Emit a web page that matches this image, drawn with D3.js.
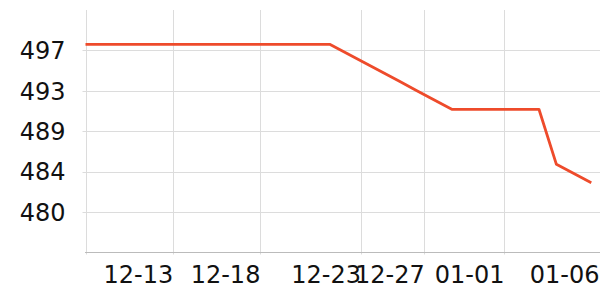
<!DOCTYPE html>
<html>
<head>
<meta charset="utf-8">
<script src="https://cdn.jsdelivr.net/npm/d3@7"></script>
<style>
  html, body { margin: 0; padding: 0; background: #fff; }
  svg { display: block; }
  text { font-family: "DejaVu Sans", sans-serif; }
</style>
</head>
<body>
<svg id="chart" width="600" height="300"></svg>
<script>
// Data (day index 0 = 12-08)
const dates = ["12-08","12-09","12-10","12-11","12-12","12-13","12-14","12-15","12-16","12-17",
               "12-18","12-19","12-20","12-21","12-22","12-23","12-24","12-25","12-26","12-27",
               "12-28","12-29","12-30","12-31","01-01","01-02","01-03","01-04","01-05","01-06"];
const values = [497.64,497.64,497.64,497.64,497.64,497.64,497.64,497.64,497.64,497.64,
                497.64,497.64,497.64,497.64,497.64,496.68,495.7,494.72,493.75,492.77,
                491.79,490.81,490.81,490.81,490.81,490.81,490.81,485.02,484.05,483.09];
const xTickPositions = [5, 10, 15.77, 19.42, 24, 29.45];
const xTickLabels = ["12-13","12-18","12-23","12-27","01-01","01-06"];
const yTicks = [480, 484.25, 488.5, 492.75, 497];
const yDomain = [475.75, 501.25];
const xDomain = [0, 29.5];

(function () {
const svg = d3.select("#chart");
const mLeft = 85.5, mRight = 600, mTop = 10, mBottom = 252.5;

const x = d3.scaleLinear().domain(xDomain).range([mLeft, mRight]);
const y = d3.scaleLinear().domain(yDomain).range([mBottom, mTop]);

// horizontal gridlines
svg.append("g").selectAll("line").data(yTicks).join("line")
  .attr("x1", mLeft - 3).attr("x2", mRight)
  .attr("y1", d => Math.round(y(d)) + 0.5).attr("y2", d => Math.round(y(d)) + 0.5)
  .attr("stroke", "#dcdcdc").attr("stroke-width", 1);

// vertical gridlines (left edge + ticks inside plot)
const vgrid = [0].concat(xTickPositions.filter(d => x(d) < mRight - 2));
svg.append("g").selectAll("line").data(vgrid).join("line")
  .attr("x1", d => Math.round(x(d)) + 0.5).attr("x2", d => Math.round(x(d)) + 0.5)
  .attr("y1", mTop).attr("y2", mBottom + 2)
  .attr("stroke", "#dcdcdc").attr("stroke-width", 1);

// bottom axis line
svg.append("line")
  .attr("x1", mLeft - 0.5).attr("x2", mRight)
  .attr("y1", mBottom).attr("y2", mBottom)
  .attr("stroke", "#bbbbbb").attr("stroke-width", 1.2);

// y labels
svg.append("g").selectAll("text").data(yTicks).join("text")
  .attr("x", 65.5).attr("y", d => y(d) + 8.7)
  .attr("text-anchor", "end")
  .attr("font-size", 24).attr("fill", "#111")
  .text(d => d3.format(".0f")(d));

// x labels
svg.append("g").selectAll("text").data(xTickPositions).join("text")
  .attr("x", d => Math.min(x(d), 599) + 0.5).attr("y", mBottom + 30.8)
  .attr("text-anchor", "end")
  .attr("font-size", 24).attr("fill", "#111")
  .text((d, i) => xTickLabels[i]);

// line
const line = d3.line().x((d, i) => x(i)).y(d => y(d));
svg.append("path").datum(values)
  .attr("d", line)
  .attr("fill", "none")
  .attr("stroke", "#ee4b2b")
  .attr("stroke-width", 2.8)
  .attr("stroke-linejoin", "round");
})();
</script>
</body>
</html>
